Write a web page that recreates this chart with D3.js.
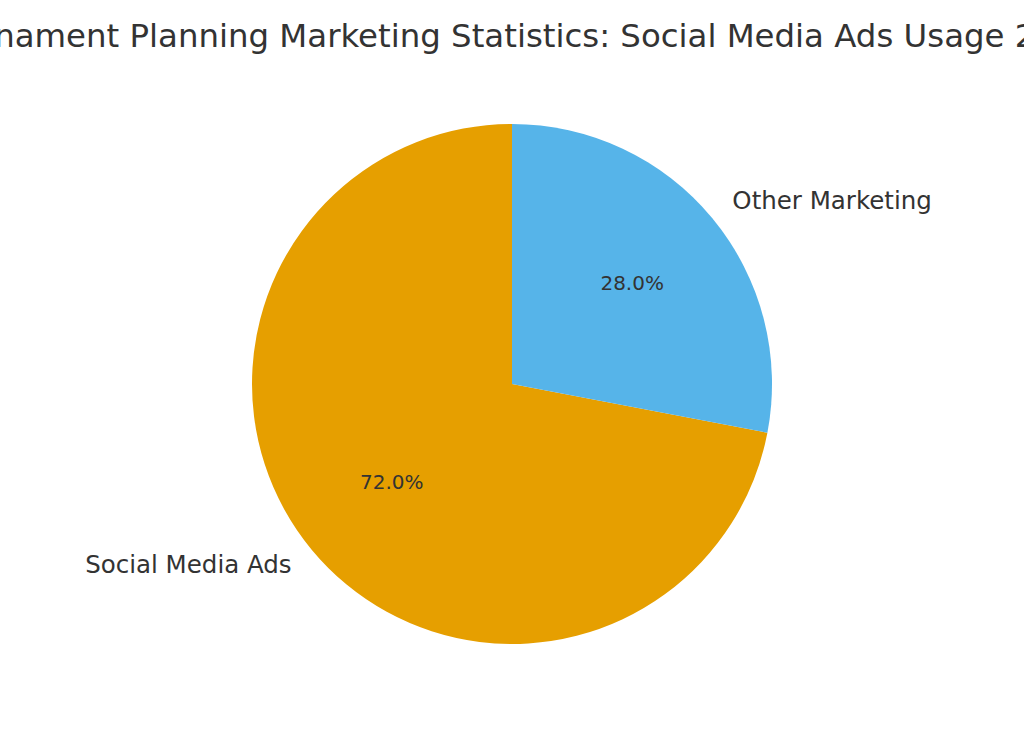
<!DOCTYPE html>
<html>
<head>
<meta charset="utf-8">
<script src="https://cdn.jsdelivr.net/npm/d3@7"></script>
<style>
  html, body { margin: 0; padding: 0; background: #fff; overflow: hidden; }
  text { font-family: "DejaVu Sans", sans-serif; fill: #333333; }
</style>
</head>
<body>
<div id="pieChart"></div>
<script>
// Pie chart: share of social media ads vs other marketing

const categories = ["Social Media Ads", "Other Marketing"];
const shares = [72, 28];
const colors = ["#E69F00", "#56B4E9"];
const title = "Tournament Planning Marketing Statistics: Social Media Ads Usage 2024";

const width = 1024;
const height = 731;
const cx = 512, cy = 384, radius = 260;

const data = categories.map((c, i) => ({ label: c, value: shares[i], color: colors[i] }));

const svg = d3.select("#pieChart")
  .append("svg")
  .attr("width", width)
  .attr("height", height);

// Title (wider than the figure, as in the original)
svg.append("text")
  .attr("x", width / 2)
  .attr("y", 47)
  .attr("text-anchor", "middle")
  .style("font-size", "32.4px")
  .text(title);

const g = svg.append("g").attr("transform", `translate(${cx},${cy})`);

// matplotlib style: start at top, go counter-clockwise
const pie = d3.pie()
  .sort(null)
  .value(d => d.value)
  .startAngle(0)
  .endAngle(-2 * Math.PI);

const arcs = pie(data);

const arc = d3.arc().innerRadius(0).outerRadius(radius);

g.selectAll("path")
  .data(arcs)
  .join("path")
  .attr("d", arc)
  .attr("fill", d => d.data.color);

const mid = d => (d.startAngle + d.endAngle) / 2;

// Category labels at 1.1 r
g.selectAll("text.label")
  .data(arcs)
  .join("text")
  .attr("class", "label")
  .attr("x", d => Math.sin(mid(d)) * radius * 1.1)
  .attr("y", d => -Math.cos(mid(d)) * radius * 1.1)
  .attr("dy", "0.28em")
  .attr("text-anchor", d => Math.sin(mid(d)) < 0 ? "end" : "start")
  .style("font-size", "24.5px")
  .text(d => d.data.label);

// Percent labels at 0.6 r
g.selectAll("text.pct")
  .data(arcs)
  .join("text")
  .attr("class", "pct")
  .attr("x", d => Math.sin(mid(d)) * radius * 0.6)
  .attr("y", d => -Math.cos(mid(d)) * radius * 0.6)
  .attr("dy", "0.26em")
  .attr("text-anchor", "middle")
  .style("font-size", "20px")
  .text(d => d.data.value.toFixed(1) + "%");
</script>
</body>
</html>
